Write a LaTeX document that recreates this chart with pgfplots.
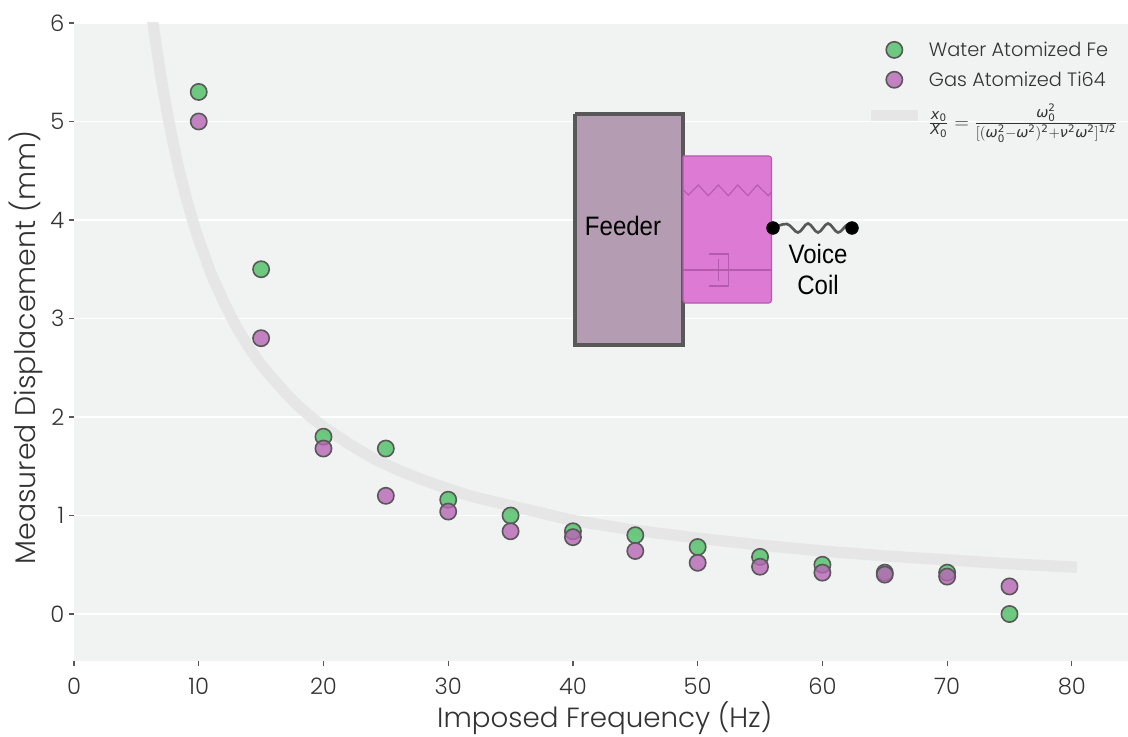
\documentclass[border=0pt]{standalone}
\usepackage{amsmath}
\usepackage{fontspec}
\setmainfont{Poppins Light}
\newfontfamily\arialf{Liberation Sans}
\newfontfamily\dejavu{DejaVu Sans}
\usepackage{pgfplots}
\pgfplotsset{compat=1.18}
\definecolor{bgc}{HTML}{F1F3F3}
\definecolor{fe}{HTML}{4DBF63}
\definecolor{ti}{HTML}{B765B5}
\definecolor{edgec}{HTML}{585858}
\definecolor{curvec}{HTML}{E5E5E5}
\definecolor{txt}{HTML}{333333}
\definecolor{feederfill}{HTML}{B49CB2}
\definecolor{boxfill}{HTML}{DD7AD3}
\definecolor{boxline}{HTML}{B55AAD}
\newcommand{\mi}[1]{\text{\dejavu\itshape #1}}
\newcommand{\mr}[1]{\text{\dejavu #1}}
\pgfplotstableread{
x y
10 5.30
15 3.50
20 1.80
25 1.68
30 1.16
35 1.00
40 0.84
45 0.80
50 0.68
55 0.58
60 0.50
65 0.42
70 0.42
75 0.00
}\fetable
\pgfplotstableread{
x y
10 5.00
15 2.80
20 1.68
25 1.20
30 1.04
35 0.84
40 0.78
45 0.64
50 0.52
55 0.48
60 0.42
65 0.40
70 0.38
75 0.28
}\titable
\pgfplotstableread{
x y
6.3 6.03
6.5 5.85
7 5.43
7.5 5.07
8 4.75
8.5 4.47
9 4.22
9.5 4.00
10 3.80
11 3.45
12 3.17
13 2.92
14 2.71
15 2.53
16 2.38
17 2.24
18 2.11
19 2.00
20 1.90
22 1.73
24 1.58
26 1.46
28 1.36
30 1.27
32 1.19
35 1.10
38 1.01
40 0.95
45 0.85
50 0.77
55 0.70
60 0.64
65 0.59
70 0.55
75 0.51
80.4 0.475
}\curvetable
\begin{document}
\begin{tikzpicture}
\useasboundingbox (0,0) rectangle (846pt,552pt);
\begin{axis}[
  at={(55.5pt,56.25pt)}, anchor=south west,
  scale only axis, width=790.5pt, height=478.5pt,
  xmin=0, xmax=84.5, ymin=-0.477, ymax=6,
  xtick={0,10,...,80}, ytick={0,1,...,6},
  axis x line*=bottom, axis y line*=left,
  axis line style={draw=none},
  tick align=outside, major tick length=3.75pt,
  tick style={color=edgec, line width=0.9pt},
  axis background/.style={fill=bgc},
  ymajorgrids, grid style={white, line width=1.1pt},
  /pgf/number format/assume math mode=true,
  tick label style={font=\fontsize{17}{19}\selectfont, text=txt},
  xticklabel style={yshift=-5.5pt},
  xlabel={Imposed Frequency (Hz)}, ylabel={Measured Displacement (mm)},
  xlabel style={font=\fontsize{20.8}{24}\selectfont, text=txt, at={(axis description cs:0.5035,-0.089)}, anchor=center},
  ylabel style={font=\fontsize{21.3}{24}\selectfont, text=txt, at={(axis description cs:-0.0455,0.4914)}, anchor=center, rotate=0},
  legend style={at={(axis description cs:0.7508,0.975)}, anchor=north west, draw=none, fill=none,
    font=\fontsize{14.5}{17}\selectfont, text=txt, row sep=6pt, inner sep=0pt, outer sep=0pt,
    nodes={inner sep=2pt}},
  legend cell align=left,
]
\addplot[forget plot, curvec, opacity=0.9, line width=8.5pt, line join=round] table[x=x,y=y] {\curvetable};
\addplot[only marks, mark=*, mark size=6.1pt, mark options={draw=edgec, fill=fe, fill opacity=0.8, line width=1.2pt},
  legend image code/.code={\path[draw=none,fill=none] (0,-8pt) rectangle (37pt,8pt); \draw[draw=edgec, fill=fe, fill opacity=0.8, line width=1.2pt] (17.5pt,0) circle (6.1pt);}] table[x=x,y=y] {\fetable};
\addlegendentry{\hspace*{2.2pt}Water Atomized Fe}
\addplot[only marks, mark=*, mark size=6.1pt, mark options={draw=edgec, fill=ti, fill opacity=0.8, line width=1.2pt},
  legend image code/.code={\path[draw=none,fill=none] (0,-8pt) rectangle (37pt,8pt); \draw[draw=edgec, fill=ti, fill opacity=0.8, line width=1.2pt] (17.5pt,0) circle (6.1pt);}] table[x=x,y=y] {\titable};
\addlegendentry{\hspace*{2.2pt}Gas Atomized Ti64}
\addlegendimage{legend image code/.code={\path[draw=none,fill=none] (0,-8pt) rectangle (37pt,8pt); \draw[curvec, opacity=0.9, line width=8.5pt] (0,0) -- (35pt,0);}}
\addlegendentry{\hspace*{2pt}\fontsize{15.5}{18}\selectfont\rule{0pt}{20pt}$\frac{\mi{x}_{\mr{0}}}{\mi{X}_{\mr{0}}}=\frac{\mi{ω}_{\mr{0}}^{\mr{2}}}{[(\mi{ω}_{\mr{0}}^{\mr{2}}-\mi{ω}^{\mr{2}})^{\mr{2}}+\mi{ν}^{\mr{2}}\mi{ω}^{\mr{2}}]^{\mr{1/2}}}$}
\end{axis}
% schematic inset: an overlay axis measured in picture pixels
\begin{axis}[
  at={(0pt,0pt)}, anchor=south west, hide axis,
  scale only axis, width=846pt, height=552pt,
  xmin=0, xmax=1128, ymin=0, ymax=736, y dir=reverse, clip=false,
]
\addplot[draw=edgec, line width=3pt, fill=feederfill] coordinates {(575,114) (683,114) (683,345) (575,345) (575,114)};
\addplot[draw=boxline, line width=0.8pt, fill=boxfill, rounded corners=2pt] coordinates {(683,156) (771.5,156) (771.5,303) (683,303) (683,156)};
\addplot[draw=boxline, line width=0.8pt] coordinates {(683.3,190) (688.3,195) (698.3,185) (708.3,195.7) (718.3,185) (728.3,195.7) (737.7,185) (747.7,195.7) (757.3,185) (768.3,195.7) (771.7,191.7)};
\addplot[draw=boxline, line width=0.8pt] coordinates {(683,270) (771.5,270)};
\addplot[draw=boxline, line width=0.8pt] coordinates {(709,254) (728.5,254) (728.5,286) (709,286)};
\addplot[draw=boxline, line width=0.8pt] coordinates {(718.5,259) (718.5,281)};
\addplot[draw=edgec, line width=2pt, smooth, tension=0.6] coordinates {(773,228) (787,224) (798,232.5) (808,223.5) (818,232.5) (828,223.5) (838,232.5) (847,225) (852,228)};
\addplot[only marks, mark=*, mark size=4.8pt, mark options={fill=black, draw=black}] coordinates {(773,228) (852,228)};
\node[font=\arialf\fontsize{20}{22}\selectfont, xscale=0.9] at (axis cs:623,226) {Feeder};
\node[font=\arialf\fontsize{20}{22}\selectfont, xscale=0.9] at (axis cs:818,254) {Voice};
\node[font=\arialf\fontsize{20}{22}\selectfont, xscale=0.9] at (axis cs:818,285) {Coil};
\end{axis}
\end{tikzpicture}
\end{document}
